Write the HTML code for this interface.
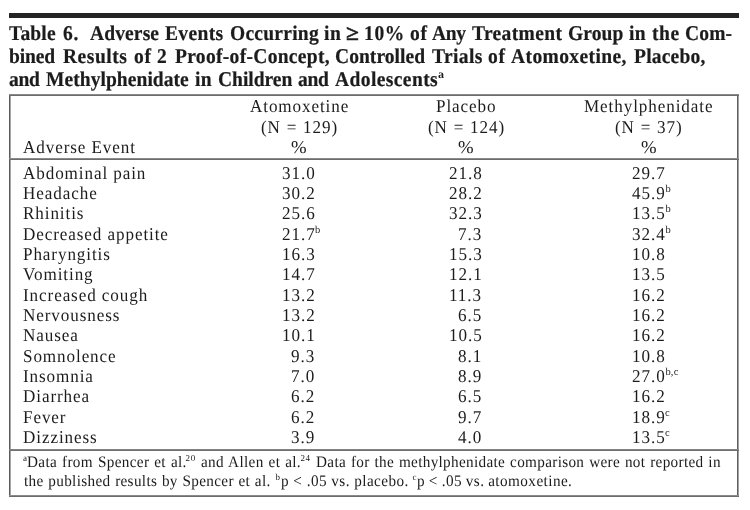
<!DOCTYPE html>
<html lang="en"><head><meta charset="utf-8"><title>Table 6</title>
<style>
html,body{margin:0;padding:0;background:#fff}
#page{position:relative;width:750px;height:510px;background:#fff;overflow:hidden;font-family:'Liberation Serif', serif;color:#1c1c1c;text-rendering:geometricPrecision}
#page span,#page sup,#page b{position:absolute;white-space:pre;line-height:24px;transform-origin:0 0;margin:0;padding:0}
#page b{font-weight:700;-webkit-text-stroke:0.2px #1c1c1c}
#page div{position:absolute;background:#606060}
</style></head>
<body><div id="page">
<div style="left:9px;top:13px;width:730px;height:5px;background:#242424"></div>
<div style="left:9px;top:94px;width:2px;height:403px;background:linear-gradient(90deg,#5a5a5a 50%,#a5a5a5 50%)"></div>
<div style="left:737px;top:94px;width:2px;height:403px;background:linear-gradient(90deg,#606060 50%,#a0a0a0 50%)"></div>
<div style="left:9px;top:94px;width:730px;height:2px;background:linear-gradient(#8a8a8a 50%,#6c6c6c 50%)"></div>
<div style="left:9px;top:158px;width:730px;height:2px;background:linear-gradient(#8a8a8a 50%,#6c6c6c 50%)"></div>
<div style="left:9px;top:449px;width:730px;height:2px;background:linear-gradient(#828282 50%,#707070 50%)"></div>
<div style="left:9px;top:495px;width:730px;height:2px;background:linear-gradient(#8a8a8a 50%,#6c6c6c 50%)"></div>
<b style="left:9.27px;top:21px;font-size:21px;letter-spacing:0.16px;transform:scaleX(0.93)">Table </b>
<b style="left:63.07px;top:21px;font-size:21px;letter-spacing:0.70px;transform:scaleX(0.93)">6. </b>
<b style="left:89.97px;top:21px;font-size:21px;letter-spacing:0.12px;transform:scaleX(0.93)">Adverse </b>
<b style="left:164.77px;top:21px;font-size:21px;letter-spacing:0.37px;transform:scaleX(0.93)">Events </b>
<b style="left:229.57px;top:21px;font-size:21px;letter-spacing:0.26px;transform:scaleX(0.93)">Occurring </b>
<b style="left:324.22px;top:21px;font-size:21px;letter-spacing:0.70px;transform:scaleX(0.93)">in </b>
<b style="left:345.88px;top:21px;font-size:21px;letter-spacing:0.00px;transform:scaleX(1.12);-webkit-text-stroke-width:0.5px">≥ </b>
<b style="left:363.94px;top:21px;font-size:21px;letter-spacing:0.70px;transform:scaleX(0.93)">10% </b>
<b style="left:409.82px;top:21px;font-size:21px;letter-spacing:0.70px;transform:scaleX(0.93)">of </b>
<b style="left:432.14px;top:21px;font-size:21px;letter-spacing:-0.35px;transform:scaleX(0.93)">Any </b>
<b style="left:472.27px;top:21px;font-size:21px;letter-spacing:0.37px;transform:scaleX(0.93)">Treatment </b>
<b style="left:568.07px;top:21px;font-size:21px;letter-spacing:0.07px;transform:scaleX(0.93)">Group </b>
<b style="left:628.53px;top:21px;font-size:21px;letter-spacing:0.45px;transform:scaleX(0.93)">in </b>
<b style="left:651.77px;top:21px;font-size:21px;letter-spacing:0.62px;transform:scaleX(0.93)">the </b>
<b style="left:684.57px;top:21px;font-size:21px;letter-spacing:0.14px;transform:scaleX(0.93)">Com-</b>
<b style="left:9.47px;top:44px;font-size:21px;letter-spacing:-0.13px;transform:scaleX(0.93)">bined </b>
<b style="left:63.17px;top:44px;font-size:21px;letter-spacing:0.56px;transform:scaleX(0.93)">Results </b>
<b style="left:134.07px;top:44px;font-size:21px;letter-spacing:0.70px;transform:scaleX(0.93)">of </b>
<b style="left:156.57px;top:44px;font-size:21px;letter-spacing:0.00px;transform:scaleX(0.93)">2 </b>
<b style="left:174.77px;top:44px;font-size:21px;letter-spacing:0.32px;transform:scaleX(0.93)">Proof-of-Concept, </b>
<b style="left:335.07px;top:44px;font-size:21px;letter-spacing:0.05px;transform:scaleX(0.93)">Controlled </b>
<b style="left:431.77px;top:44px;font-size:21px;letter-spacing:0.40px;transform:scaleX(0.93)">Trials </b>
<b style="left:488.32px;top:44px;font-size:21px;letter-spacing:0.70px;transform:scaleX(0.93)">of </b>
<b style="left:511.27px;top:44px;font-size:21px;letter-spacing:0.42px;transform:scaleX(0.93)">Atomoxetine, </b>
<b style="left:633.77px;top:44px;font-size:21px;letter-spacing:0.22px;transform:scaleX(0.93)">Placebo, </b>
<b style="left:8.78px;top:67px;font-size:21px;letter-spacing:-0.35px;transform:scaleX(0.93)">and </b>
<b style="left:46.27px;top:67px;font-size:21px;letter-spacing:0.05px;transform:scaleX(0.93)">Methylphenidate </b>
<b style="left:194.53px;top:67px;font-size:21px;letter-spacing:0.45px;transform:scaleX(0.93)">in </b>
<b style="left:217.57px;top:67px;font-size:21px;letter-spacing:-0.04px;transform:scaleX(0.93)">Children </b>
<b style="left:297.53px;top:67px;font-size:21px;letter-spacing:-0.35px;transform:scaleX(0.93)">and </b>
<b style="left:334.77px;top:67px;font-size:21px;letter-spacing:0.42px;transform:scaleX(0.93)">Adolescents </b>
<sup style="left:438.00px;top:62px;font-size:12px;font-weight:700;letter-spacing:0.00px">a</sup>
<span style="left:23.30px;top:135px;font-size:18px;letter-spacing:0.95px;transform:scaleX(0.95)">Adverse Event</span>
<span style="left:249.57px;top:94px;font-size:18px;letter-spacing:0.95px;transform:scaleX(0.95)">Atomoxetine</span>
<span style="left:260.50px;top:115px;font-size:18px;letter-spacing:0.95px;word-spacing:0.70px;transform:scaleX(0.95)">(N = 129)</span>
<span style="left:290.70px;top:135px;font-size:18px;letter-spacing:0.00px;transform:scaleX(1.04)">%</span>
<span style="left:436.34px;top:94px;font-size:18px;letter-spacing:0.95px;transform:scaleX(0.95)">Placebo</span>
<span style="left:428.00px;top:115px;font-size:18px;letter-spacing:0.95px;word-spacing:0.70px;transform:scaleX(0.95)">(N = 124)</span>
<span style="left:458.20px;top:135px;font-size:18px;letter-spacing:0.00px;transform:scaleX(1.04)">%</span>
<span style="left:584.45px;top:94px;font-size:18px;letter-spacing:0.95px;transform:scaleX(0.95)">Methylphenidate</span>
<span style="left:615.33px;top:115px;font-size:18px;letter-spacing:0.95px;word-spacing:0.70px;transform:scaleX(0.95)">(N = 37)</span>
<span style="left:640.80px;top:135px;font-size:18px;letter-spacing:0.00px;transform:scaleX(1.04)">%</span>
<span style="left:23.30px;top:161px;font-size:18px;letter-spacing:0.95px;transform:scaleX(0.95)">Abdominal pain</span>
<span style="left:281.93px;top:161px;font-size:18px;letter-spacing:1.00px;transform:scaleX(0.95)">31.0</span>
<span style="left:448.62px;top:161px;font-size:18px;letter-spacing:1.00px;transform:scaleX(0.95)">21.8</span>
<span style="left:632.23px;top:161px;font-size:18px;letter-spacing:1.00px;transform:scaleX(0.95)">29.7</span>
<span style="left:23.30px;top:181px;font-size:18px;letter-spacing:0.95px;transform:scaleX(0.95)">Headache</span>
<span style="left:281.93px;top:181px;font-size:18px;letter-spacing:1.00px;transform:scaleX(0.95)">30.2</span>
<span style="left:448.62px;top:181px;font-size:18px;letter-spacing:1.00px;transform:scaleX(0.95)">28.2</span>
<span style="left:632.23px;top:181px;font-size:18px;letter-spacing:1.00px;transform:scaleX(0.95)">45.9</span>
<sup style="left:665.40px;top:178px;font-size:10.5px;letter-spacing:0.20px">b</sup>
<span style="left:23.30px;top:201px;font-size:18px;letter-spacing:0.95px;transform:scaleX(0.95)">Rhinitis</span>
<span style="left:281.93px;top:201px;font-size:18px;letter-spacing:1.00px;transform:scaleX(0.95)">25.6</span>
<span style="left:448.62px;top:201px;font-size:18px;letter-spacing:1.00px;transform:scaleX(0.95)">32.3</span>
<span style="left:632.23px;top:201px;font-size:18px;letter-spacing:1.00px;transform:scaleX(0.95)">13.5</span>
<sup style="left:665.40px;top:198px;font-size:10.5px;letter-spacing:0.20px">b</sup>
<span style="left:23.30px;top:222px;font-size:18px;letter-spacing:0.95px;transform:scaleX(0.95)">Decreased appetite</span>
<span style="left:281.93px;top:222px;font-size:18px;letter-spacing:1.00px;transform:scaleX(0.95)">21.7</span>
<sup style="left:315.10px;top:219px;font-size:10.5px;letter-spacing:0.20px">b</sup>
<span style="left:458.12px;top:222px;font-size:18px;letter-spacing:1.00px;transform:scaleX(0.95)">7.3</span>
<span style="left:632.23px;top:222px;font-size:18px;letter-spacing:1.00px;transform:scaleX(0.95)">32.4</span>
<sup style="left:665.40px;top:219px;font-size:10.5px;letter-spacing:0.20px">b</sup>
<span style="left:23.30px;top:242px;font-size:18px;letter-spacing:0.95px;transform:scaleX(0.95)">Pharyngitis</span>
<span style="left:281.93px;top:242px;font-size:18px;letter-spacing:1.00px;transform:scaleX(0.95)">16.3</span>
<span style="left:448.62px;top:242px;font-size:18px;letter-spacing:1.00px;transform:scaleX(0.95)">15.3</span>
<span style="left:632.23px;top:242px;font-size:18px;letter-spacing:1.00px;transform:scaleX(0.95)">10.8</span>
<span style="left:23.30px;top:262px;font-size:18px;letter-spacing:0.95px;transform:scaleX(0.95)">Vomiting</span>
<span style="left:281.93px;top:262px;font-size:18px;letter-spacing:1.00px;transform:scaleX(0.95)">14.7</span>
<span style="left:448.62px;top:262px;font-size:18px;letter-spacing:1.00px;transform:scaleX(0.95)">12.1</span>
<span style="left:632.23px;top:262px;font-size:18px;letter-spacing:1.00px;transform:scaleX(0.95)">13.5</span>
<span style="left:23.30px;top:283px;font-size:18px;letter-spacing:0.95px;transform:scaleX(0.95)">Increased cough</span>
<span style="left:281.93px;top:283px;font-size:18px;letter-spacing:1.00px;transform:scaleX(0.95)">13.2</span>
<span style="left:449.25px;top:283px;font-size:18px;letter-spacing:1.00px;transform:scaleX(0.95)">11.3</span>
<span style="left:632.23px;top:283px;font-size:18px;letter-spacing:1.00px;transform:scaleX(0.95)">16.2</span>
<span style="left:23.30px;top:303px;font-size:18px;letter-spacing:0.95px;transform:scaleX(0.95)">Nervousness</span>
<span style="left:281.93px;top:303px;font-size:18px;letter-spacing:1.00px;transform:scaleX(0.95)">13.2</span>
<span style="left:458.12px;top:303px;font-size:18px;letter-spacing:1.00px;transform:scaleX(0.95)">6.5</span>
<span style="left:632.23px;top:303px;font-size:18px;letter-spacing:1.00px;transform:scaleX(0.95)">16.2</span>
<span style="left:23.30px;top:323px;font-size:18px;letter-spacing:0.95px;transform:scaleX(0.95)">Nausea</span>
<span style="left:281.93px;top:323px;font-size:18px;letter-spacing:1.00px;transform:scaleX(0.95)">10.1</span>
<span style="left:448.62px;top:323px;font-size:18px;letter-spacing:1.00px;transform:scaleX(0.95)">10.5</span>
<span style="left:632.23px;top:323px;font-size:18px;letter-spacing:1.00px;transform:scaleX(0.95)">16.2</span>
<span style="left:23.30px;top:344px;font-size:18px;letter-spacing:0.95px;transform:scaleX(0.95)">Somnolence</span>
<span style="left:291.43px;top:344px;font-size:18px;letter-spacing:1.00px;transform:scaleX(0.95)">9.3</span>
<span style="left:458.12px;top:344px;font-size:18px;letter-spacing:1.00px;transform:scaleX(0.95)">8.1</span>
<span style="left:632.23px;top:344px;font-size:18px;letter-spacing:1.00px;transform:scaleX(0.95)">10.8</span>
<span style="left:23.30px;top:364px;font-size:18px;letter-spacing:0.95px;transform:scaleX(0.95)">Insomnia</span>
<span style="left:291.43px;top:364px;font-size:18px;letter-spacing:1.00px;transform:scaleX(0.95)">7.0</span>
<span style="left:458.12px;top:364px;font-size:18px;letter-spacing:1.00px;transform:scaleX(0.95)">8.9</span>
<span style="left:632.23px;top:364px;font-size:18px;letter-spacing:1.00px;transform:scaleX(0.95)">27.0</span>
<sup style="left:665.40px;top:361px;font-size:10.5px;letter-spacing:0.20px">b,c</sup>
<span style="left:23.30px;top:384px;font-size:18px;letter-spacing:0.95px;transform:scaleX(0.95)">Diarrhea</span>
<span style="left:291.43px;top:384px;font-size:18px;letter-spacing:1.00px;transform:scaleX(0.95)">6.2</span>
<span style="left:458.12px;top:384px;font-size:18px;letter-spacing:1.00px;transform:scaleX(0.95)">6.5</span>
<span style="left:632.23px;top:384px;font-size:18px;letter-spacing:1.00px;transform:scaleX(0.95)">16.2</span>
<span style="left:23.30px;top:405px;font-size:18px;letter-spacing:0.95px;transform:scaleX(0.95)">Fever</span>
<span style="left:291.43px;top:405px;font-size:18px;letter-spacing:1.00px;transform:scaleX(0.95)">6.2</span>
<span style="left:458.12px;top:405px;font-size:18px;letter-spacing:1.00px;transform:scaleX(0.95)">9.7</span>
<span style="left:632.23px;top:405px;font-size:18px;letter-spacing:1.00px;transform:scaleX(0.95)">18.9</span>
<sup style="left:664.90px;top:402px;font-size:10.5px;letter-spacing:0.20px">c</sup>
<span style="left:23.30px;top:425px;font-size:18px;letter-spacing:0.95px;transform:scaleX(0.95)">Dizziness</span>
<span style="left:291.43px;top:425px;font-size:18px;letter-spacing:1.00px;transform:scaleX(0.95)">3.9</span>
<span style="left:458.12px;top:425px;font-size:18px;letter-spacing:1.00px;transform:scaleX(0.95)">4.0</span>
<span style="left:632.23px;top:425px;font-size:18px;letter-spacing:1.00px;transform:scaleX(0.95)">13.5</span>
<sup style="left:664.90px;top:422px;font-size:10.5px;letter-spacing:0.20px">c</sup>
<sup style="left:23.05px;top:446px;font-size:9px;letter-spacing:0.00px">a</sup>
<span style="left:27.30px;top:451px;font-size:16px;letter-spacing:0.36px;word-spacing:0.88px;transform:scaleX(0.95)">Data from Spencer et al.</span>
<sup style="left:185.62px;top:446px;font-size:9px;letter-spacing:0.70px">20</sup>
<span style="left:200.80px;top:451px;font-size:16px;letter-spacing:0.36px;word-spacing:0.88px;transform:scaleX(0.95)">and Allen et al.</span>
<sup style="left:300.38px;top:446px;font-size:9px;letter-spacing:0.70px">24</sup>
<span style="left:315.50px;top:451px;font-size:16px;letter-spacing:0.35px;word-spacing:0.77px;transform:scaleX(0.95)">Data for the methylphenidate comparison were not reported in</span>
<span style="left:23.80px;top:470px;font-size:16px;letter-spacing:0.36px;word-spacing:0.56px;transform:scaleX(0.95)">the published results by Spencer et al.</span>
<sup style="left:275.50px;top:465px;font-size:9px;letter-spacing:0.00px">b</sup>
<span style="left:280.60px;top:470px;font-size:16px;letter-spacing:0.44px;word-spacing:0.14px;transform:scaleX(0.95)">p &lt; .05 vs. placebo.</span>
<sup style="left:412.55px;top:465px;font-size:9px;letter-spacing:0.00px">c</sup>
<span style="left:416.70px;top:470px;font-size:16px;letter-spacing:0.46px;word-spacing:-0.46px;transform:scaleX(0.95)">p &lt; .05 vs. atomoxetine.</span>
</div></body></html>
